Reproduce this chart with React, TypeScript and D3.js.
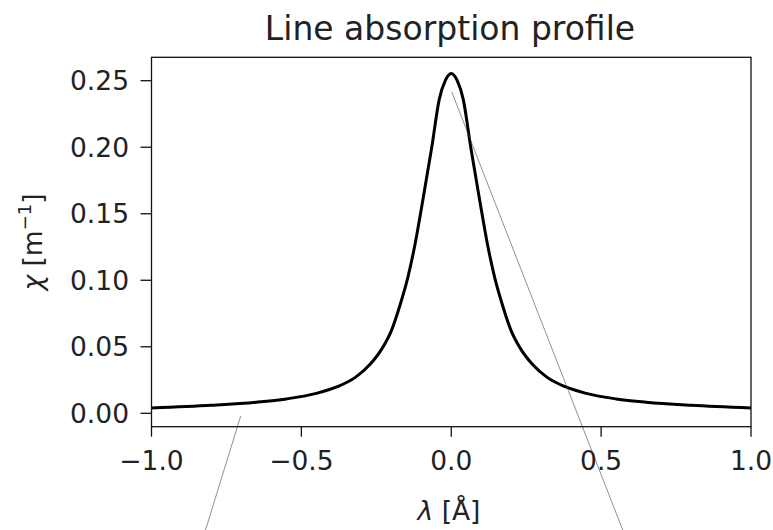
import React from "react";
import * as d3 from "d3";

// wavelength offsets (Å) and absorption values (m^-1)
const lambdaValues = [
  -1.0, -0.8, -0.65, -0.55, -0.45, -0.38, -0.32, -0.27, -0.23, -0.2, -0.17, -0.145, -0.12, -0.095, -0.065, -0.04, -0.02,
  0.0,
  0.02, 0.04, 0.065, 0.095, 0.12, 0.145, 0.17, 0.2, 0.23, 0.27, 0.32, 0.38, 0.45, 0.55, 0.65, 0.8, 1.0,
];
const chiValues = [
  0.004, 0.006, 0.0083, 0.0108, 0.015, 0.02, 0.027, 0.037, 0.049, 0.062, 0.082, 0.102, 0.128, 0.16, 0.2, 0.236, 0.25,
  0.2554,
  0.25, 0.236, 0.2, 0.16, 0.128, 0.102, 0.082, 0.062, 0.049, 0.037, 0.027, 0.02, 0.015, 0.0108, 0.0083, 0.006, 0.004,
];

// thin annotation lines (data coordinates, running off the figure)
const annoX1 = [0.0015, -0.7024];
const annoY1 = [0.2417, -0.002];
const annoX2 = [0.628, -0.864];
const annoY2 = [-0.12, -0.12];

const xTicks = [-1.0, -0.5, 0.0, 0.5, 1.0];
const yTicks = [0.0, 0.05, 0.1, 0.15, 0.2, 0.25];

const xDomain = [-1, 1];
const yDomain = [-0.01007, 0.2676];

export default function App() {
  const W = 773;
  const H = 530;
  const left = 151.5;
  const right = 751;
  const top = 57.3;
  const bottom = 426.7;
  const x = d3.scaleLinear().domain(xDomain).range([left, right]);
  const y = d3.scaleLinear().domain(yDomain).range([bottom, top]);

  const pts: [number, number][] = lambdaValues.map((l, i) => [l, chiValues[i]]);
  const line = d3
    .line<[number, number]>()
    .x((d) => x(d[0]))
    .y((d) => y(d[1]))
    .curve(d3.curveMonotoneX);

  const font = "DejaVu Sans, sans-serif";
  const tickFs = 26.5;
  const fmtX = (v: number) => (v < 0 ? "\u2212" + Math.abs(v).toFixed(1) : v.toFixed(1));
  const fmtY = (v: number) => v.toFixed(2);

  return (
    <svg
      width={W}
      height={H}
      style={{ position: "absolute", left: 0, top: 0, background: "#fff" }}
      fontFamily={font}
    >
      <rect x={0} y={0} width={W} height={H} fill="#fff" />
      {/* curve */}
      <path d={line(pts) || ""} fill="none" stroke="#000" strokeWidth={3} strokeLinejoin="round" />
      {/* annotation lines */}
      {annoX1.map((_, i) => (
        <line
          key={"a" + i}
          x1={x(annoX1[i])}
          y1={y(annoY1[i])}
          x2={x(annoX2[i])}
          y2={y(annoY2[i])}
          stroke="#444"
          strokeWidth={0.6}
        />
      ))}
      {/* spines */}
      <rect x={left} y={top} width={right - left} height={bottom - top} fill="none" stroke="#111" strokeWidth={1.3} />
      {/* x ticks */}
      {xTicks.map((t) => (
        <g key={"x" + t}>
          <line x1={x(t)} x2={x(t)} y1={bottom} y2={bottom + 10} stroke="#111" strokeWidth={1.3} />
          <text x={x(t)} y={470} textAnchor="middle" fontSize={tickFs} fill="#222">
            {fmtX(t)}
          </text>
        </g>
      ))}
      {/* y ticks */}
      {yTicks.map((t) => (
        <g key={"y" + t}>
          <line x1={left - 11} x2={left} y1={y(t)} y2={y(t)} stroke="#111" strokeWidth={1.3} />
          <text x={129} y={y(t)} dy="0.36em" textAnchor="end" fontSize={tickFs} fill="#222">
            {fmtY(t)}
          </text>
        </g>
      ))}
      {/* title */}
      <text x={450} y={40} textAnchor="middle" fontSize={33} fill="#222">
        Line absorption profile
      </text>
      {/* x label */}
      <text x={449} y={520} textAnchor="middle" fontSize={tickFs} fill="#222">
        <tspan fontStyle="italic">λ</tspan>
        <tspan> [Å]</tspan>
      </text>
      {/* y label */}
      <text
        transform={`translate(42, ${(top + bottom) / 2}) rotate(-90)`}
        textAnchor="middle"
        fontSize={tickFs}
        fill="#222"
      >
        <tspan fontStyle="italic">χ</tspan>
        <tspan> [m</tspan>
        <tspan fontSize={18} dy={-11}>
          −1
        </tspan>
        <tspan dy={11}>]</tspan>
      </text>
    </svg>
  );
}
